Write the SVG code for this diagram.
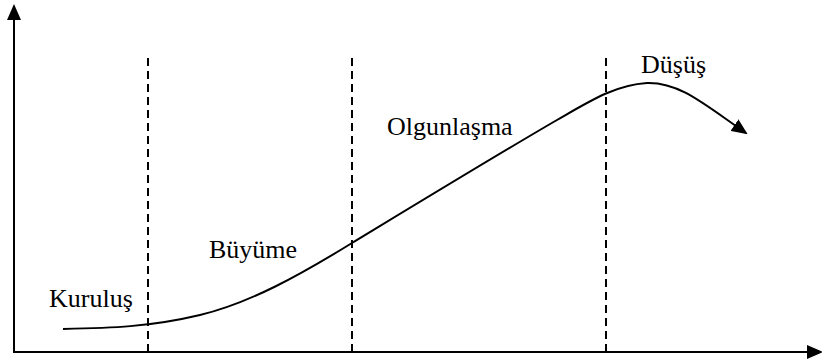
<svg xmlns="http://www.w3.org/2000/svg" width="822" height="362" viewBox="0 0 822 362">
<style>
.axis{stroke:#000;stroke-width:2;fill:none}
.dash{stroke:#000;stroke-width:2;stroke-dasharray:8,5;fill:none}
.curve{stroke:#000;stroke-width:2;fill:none}
text{font-family:"Liberation Serif","Times New Roman",serif;font-size:26px;fill:#000}
</style>
<defs>
<marker id="ah" markerWidth="16" markerHeight="14" refX="14" refY="7" orient="auto" markerUnits="userSpaceOnUse">
<path d="M0,0 L16,7 L0,14 Z" fill="#000"/>
</marker>
</defs>
<g id="axes">
<line class="axis" x1="14" y1="353" x2="14" y2="6" marker-end="url(#ah)"/>
<line class="axis" x1="14" y1="352" x2="821" y2="352" marker-end="url(#ah)"/>
</g>
<g id="dividers">
<line class="dash" x1="148" y1="58" x2="148" y2="352"/>
<line class="dash" x1="352" y1="58" x2="352" y2="352"/>
<line class="dash" x1="606" y1="58" x2="606" y2="352"/>
</g>
<g id="connectors">
<path class="curve" d="M63,329 C110,328 150,327 200,315 C250,303 300,275 352,243 C390,220 500,153 557,120 C590,101 615,85 647,83 C680,82 705,105 746,133" marker-end="url(#ah)"/>
</g>
<g id="labels">
<text id="kurulus" x="49" y="307">Kuruluş</text>
<text id="buyume" x="209" y="258">Büyüme</text>
<text id="olgunlasma" x="387" y="135">Olgunlaşma</text>
<text id="dusus" x="641" y="73">Düşüş</text>
</g>
</svg>
